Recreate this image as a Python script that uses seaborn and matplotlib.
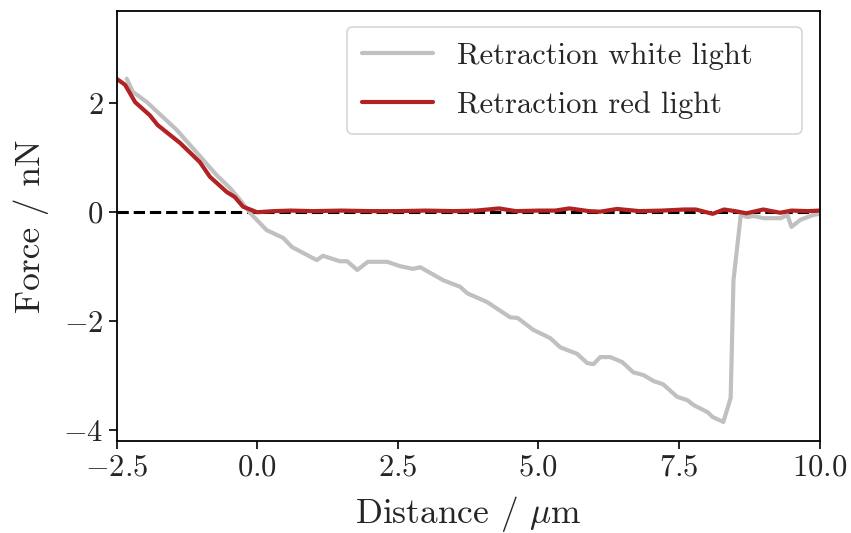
import matplotlib
matplotlib.use("Agg")
import matplotlib.pyplot as plt
import seaborn as sns
import pandas as pd

# Retraction under white light (grey curve)
white_x = [-2.32, -2.21, -1.96, -1.43, -0.72, -0.48, -0.30, -0.13, 0.17, 0.46, 0.62,
           1.06, 1.17, 1.47, 1.60, 1.78, 1.97, 2.31, 2.54, 2.77, 2.90, 3.31, 3.61,
           3.74, 4.09, 4.50, 4.63, 4.91, 5.21, 5.39, 5.69, 5.87, 5.98, 6.10, 6.28,
           6.49, 6.69, 6.87, 7.05, 7.22, 7.47, 7.65, 7.76, 8.01, 8.10, 8.29, 8.42,
           8.47, 8.60, 8.72, 8.83, 9.01, 9.31, 9.43, 9.50, 9.66, 9.89, 10.0]
white_y = [2.45, 2.21, 2.02, 1.51, 0.68, 0.44, 0.22, -0.01, -0.33, -0.47, -0.64,
           -0.88, -0.80, -0.90, -0.90, -1.06, -0.91, -0.91, -0.99, -1.04, -1.01, -1.25, -1.37,
           -1.49, -1.65, -1.93, -1.94, -2.16, -2.31, -2.48, -2.60, -2.77, -2.79, -2.66, -2.66,
           -2.75, -2.94, -2.99, -3.10, -3.16, -3.39, -3.45, -3.54, -3.67, -3.76, -3.85, -3.41,
           -1.25, -0.05, -0.09, -0.07, -0.11, -0.11, -0.05, -0.27, -0.14, -0.05, -0.03]

# Retraction under red light (red curve)
red_x = [-2.50, -2.35, -2.17, -1.91, -1.77, -1.37, -1.02, -0.84, -0.54, -0.40, -0.25,
         0.0, 0.3, 0.6, 1.0, 1.5, 2.0, 2.5, 3.0, 3.5, 3.9, 4.3, 4.6, 5.0, 5.3, 5.55,
         5.9, 6.1, 6.4, 6.8, 7.2, 7.6, 7.8, 7.95, 8.1, 8.3, 8.5, 8.7, 9.0, 9.3, 9.5,
         9.8, 10.0]
red_y = [2.45, 2.34, 2.02, 1.78, 1.60, 1.27, 0.92, 0.65, 0.37, 0.28, 0.10,
         0.00, 0.02, 0.03, 0.02, 0.03, 0.02, 0.02, 0.03, 0.02, 0.03, 0.07, 0.02, 0.03, 0.03, 0.07,
         0.02, 0.01, 0.06, 0.02, 0.03, 0.05, 0.05, 0.01, -0.03, 0.05, 0.02, -0.02, 0.05, -0.01, 0.03,
         0.02, 0.03]

labels = ["Retraction white light", "Retraction red light"]

df = pd.concat([
    pd.DataFrame({"x": white_x, "y": white_y, "series": labels[0]}),
    pd.DataFrame({"x": red_x, "y": red_y, "series": labels[1]}),
], ignore_index=True)

sns.set_style("ticks")
plt.rcParams["font.family"] = ["serif"]
plt.rcParams["font.serif"] = ["cmr10"]
plt.rcParams["mathtext.fontset"] = "cm"
plt.rcParams["axes.formatter.use_mathtext"] = True
plt.rcParams["axes.unicode_minus"] = True

fig = plt.figure(figsize=(8.51, 5.33), dpi=100)
ax = fig.add_axes([0.137, 0.1726, 0.826, 0.8074])

ax.axhline(0, color="black", ls="--", lw=2.2, zorder=1)
sns.lineplot(data=df, x="x", y="y", hue="series", sort=False, estimator=None,
             palette={labels[0]: "#c0c0c0", labels[1]: "#b22222"},
             lw=3.0, ax=ax, zorder=2)

ax.set_xlim(-2.5, 10.0)
ax.set_ylim(-4.2, 3.7)
ax.set_xticks([-2.5, 0.0, 2.5, 5.0, 7.5, 10.0])
ax.set_yticks([-4, -2, 0, 2])
ax.set_xlabel(r"Distance / $\mu$m", fontsize=25.5, labelpad=9)
ax.set_ylabel("Force / nN", fontsize=25.5, labelpad=10)
ax.tick_params(labelsize=22, width=1.2, length=6, color="black")
for s in ax.spines.values():
    s.set_linewidth(1.3)
    s.set_color("black")

leg = ax.legend(loc="upper left", bbox_to_anchor=(0.328, 0.5, 0.647, 0.462),
                mode="expand", borderaxespad=0, fontsize=22, frameon=True,
                fancybox=True, framealpha=0.8, handlelength=2.3,
                handletextpad=0.8, labelspacing=0.7, borderpad=0.5)
leg.get_frame().set_edgecolor("#cccccc")
leg.get_frame().set_linewidth(1.2)
for line in leg.get_lines():
    line.set_linewidth(3.0)

fig.savefig("out.png", dpi=100)
